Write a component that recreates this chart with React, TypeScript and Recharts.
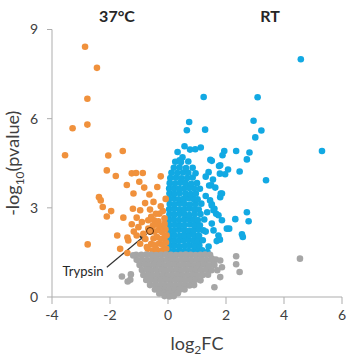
import { ScatterChart, Scatter, XAxis, YAxis, ReferenceDot, ReferenceLine, Label } from "recharts";

// log2FC, -log10(pvalue)
const orangePoints: [number, number][] = [
  [-2.86, 8.42], [-2.45, 7.71], [-2.78, 6.67], [-2.78, 5.8], [-3.29, 5.68], [-3.55, 4.77],
  [-2.06, 4.76], [-1.56, 4.91], [-2.11, 4.26], [-1.8, 4.07], [-1.25, 4.16], [-1.1, 4.17],
  [-0.87, 4.17], [-0.25, 4.06], [-1.42, 3.77], [-0.99, 3.88], [-0.37, 3.7], [-0.82, 3.68],
  [-1.19, 3.48], [-0.64, 3.45], [-2.38, 3.36], [-2.32, 3.25], [-2.25, 3.03], [-1.96, 2.89],
  [-1.21, 2.97], [-0.96, 2.92], [-0.79, 3.16], [-0.62, 2.94], [-0.18, 2.89], [-0.3, 2.8],
  [-2.11, 2.71], [-1.54, 2.67], [-1.08, 2.67], [-0.9, 2.52], [-0.68, 2.58], [-0.48, 2.58],
  [-0.33, 2.55], [-2.77, 1.77], [-1.75, 2.07], [-1.4, 2.0], [-1.37, 1.9], [-1.65, 1.62],
  [-1.4, 1.48], [-1.08, 2.07],
  [-0.52, 1.56], [-0.4, 1.6], [-0.27, 1.55], [-0.15, 1.58], [-0.06, 1.62],
  [-0.58, 1.78], [-0.45, 1.74], [-0.31, 1.8], [-0.19, 1.76], [-0.07, 1.83],
  [-0.5, 1.97], [-0.38, 2.02], [-0.24, 1.95], [-0.12, 2.0], [-0.05, 2.08],
  [-0.47, 2.2], [-0.33, 2.25], [-0.2, 2.18], [-0.09, 2.28],
  [-0.52, 2.4], [-0.36, 2.44], [-0.22, 2.38], [-0.12, 2.46],
  [-0.7, 1.62], [-0.78, 1.95], [-0.68, 2.3], [-0.85, 2.13], [-0.96, 1.79], [-0.73, 1.68],
  [-1.02, 2.35], [-1.18, 2.2], [-1.25, 2.45], [-0.58, 2.7], [-0.42, 2.8], [-0.25, 3.05],
  [-0.12, 2.65], [-0.08, 3.3], [-0.5, 3.2],
];

const bluePoints: [number, number][] = [
  // dense column
  [0.04, 1.55], [0.2, 1.55], [0.38, 1.56], [0.55, 1.54], [0.72, 1.55], [0.9, 1.56], [1.05, 1.55], [1.18, 1.57],
  [0.06, 1.72], [0.22, 1.73], [0.4, 1.71], [0.58, 1.72], [0.75, 1.74], [0.92, 1.72], [1.08, 1.73],
  [0.03, 1.9], [0.19, 1.91], [0.36, 1.89], [0.53, 1.9], [0.7, 1.92], [0.88, 1.9], [1.04, 1.89], [1.2, 1.91],
  [0.05, 2.07], [0.23, 2.08], [0.41, 2.06], [0.57, 2.07], [0.74, 2.09], [0.91, 2.07], [1.07, 2.06],
  [0.04, 2.25], [0.2, 2.24], [0.37, 2.26], [0.55, 2.25], [0.72, 2.23], [0.89, 2.25], [1.05, 2.26], [1.22, 2.24],
  [0.06, 2.42], [0.23, 2.43], [0.4, 2.41], [0.58, 2.42], [0.76, 2.44], [0.93, 2.42], [1.1, 2.41],
  [0.03, 2.6], [0.2, 2.61], [0.38, 2.59], [0.55, 2.6], [0.71, 2.62], [0.88, 2.6], [1.03, 2.59], [1.25, 2.61],
  [0.05, 2.78], [0.22, 2.77], [0.4, 2.79], [0.57, 2.78], [0.74, 2.76], [0.92, 2.78], [1.12, 2.79],
  [0.04, 2.95], [0.21, 2.96], [0.39, 2.94], [0.56, 2.95], [0.73, 2.97], [0.9, 2.95], [1.06, 2.94],
  [0.06, 3.13], [0.23, 3.12], [0.41, 3.14], [0.58, 3.13], [0.76, 3.11], [0.95, 3.13], [1.15, 3.14],
  [0.03, 3.3], [0.2, 3.31], [0.37, 3.29], [0.54, 3.3], [0.71, 3.32], [0.88, 3.3], [1.02, 3.29],
  [0.05, 3.48], [0.22, 3.47], [0.4, 3.49], [0.6, 3.48], [0.78, 3.46], [0.96, 3.48],
  [0.04, 3.65], [0.21, 3.66], [0.38, 3.64], [0.55, 3.65], [0.73, 3.67], [0.9, 3.65], [1.1, 3.64],
  [0.06, 3.83], [0.24, 3.82], [0.42, 3.84], [0.6, 3.83], [0.8, 3.81], [1.0, 3.83],
  [0.08, 4.0], [0.27, 4.01], [0.46, 3.99], [0.66, 4.0], [0.85, 4.02],
  [0.12, 4.18], [0.32, 4.17], [0.52, 4.19], [0.7, 4.18], [0.95, 4.16],
  [0.2, 4.35], [0.4, 4.36], [0.62, 4.34], [0.85, 4.35],
  [0.25, 4.55], [0.45, 4.54], [0.7, 4.56],
  // scattered
  [1.23, 6.73], [3.09, 6.72], [4.58, 8.0], [5.31, 4.91], [0.73, 5.89], [0.65, 5.61], [1.28, 5.63],
  [2.95, 5.93], [3.22, 5.6], [3.01, 5.37], [2.35, 4.91], [2.81, 4.86], [2.72, 4.63], [2.47, 4.22],
  [3.38, 3.93], [1.94, 4.91], [1.88, 4.77], [1.46, 4.62], [1.13, 5.03], [1.76, 4.41], [2.07, 4.29],
  [1.79, 4.15], [1.97, 4.13], [0.57, 5.07], [0.33, 4.88], [0.76, 4.96], [0.94, 4.97], [0.5, 4.7],
  [0.4, 4.6], [1.4, 4.2], [1.3, 4.05], [1.55, 3.95], [1.42, 3.75], [1.51, 4.58], [1.8, 4.43],
  [1.49, 3.76], [1.63, 3.68], [1.82, 3.48], [1.8, 3.36], [1.51, 3.12], [1.6, 2.97], [1.66, 2.8],
  [1.86, 3.48], [1.51, 3.08], [1.57, 2.92], [1.74, 2.75], [1.86, 2.58], [1.51, 2.47], [1.57, 2.24],
  [1.74, 2.07], [2.03, 2.3], [1.79, 1.93], [1.68, 1.88], [1.4, 1.7], [1.36, 1.51], [1.3, 3.4],
  [1.45, 3.25], [1.35, 2.85], [1.3, 2.2],
  [2.72, 2.85], [2.32, 2.62], [2.78, 2.55], [2.55, 2.11], [2.58, 2.02], [2.11, 2.3],
];

const grayPoints: [number, number][] = [
  [-1.1, 1.42], [-0.92, 1.42], [-0.75, 1.43], [-0.58, 1.42], [-0.41, 1.41], [-0.24, 1.42], [-0.07, 1.43], [0.1, 1.42],
  [0.27, 1.41], [0.44, 1.42], [0.61, 1.43], [0.78, 1.42], [0.95, 1.41], [1.12, 1.42], [1.28, 1.43], [1.45, 1.42],
  [-1.08, 1.25], [-0.9, 1.26], [-0.72, 1.24], [-0.55, 1.25], [-0.38, 1.26], [-0.21, 1.24], [-0.04, 1.25], [0.13, 1.26],
  [0.3, 1.24], [0.47, 1.25], [0.64, 1.26], [0.81, 1.24], [0.98, 1.25], [1.15, 1.26], [1.32, 1.24], [1.5, 1.25], [1.65, 1.26],
  [-0.98, 1.08], [-0.8, 1.09], [-0.63, 1.07], [-0.46, 1.08], [-0.29, 1.09], [-0.12, 1.07], [0.05, 1.08], [0.22, 1.09],
  [0.39, 1.07], [0.56, 1.08], [0.73, 1.09], [0.9, 1.07], [1.07, 1.08], [1.24, 1.09], [1.42, 1.07], [1.6, 1.08],
  [-0.9, 0.91], [-0.73, 0.92], [-0.56, 0.9], [-0.39, 0.91], [-0.22, 0.92], [-0.05, 0.9], [0.12, 0.91], [0.29, 0.92],
  [0.46, 0.9], [0.63, 0.91], [0.8, 0.92], [0.97, 0.9], [1.14, 0.91], [1.32, 0.92], [1.5, 0.9],
  [-0.85, 0.74], [-0.68, 0.75], [-0.51, 0.73], [-0.34, 0.74], [-0.17, 0.75], [0.0, 0.73], [0.17, 0.74],
  [0.34, 0.75], [0.51, 0.73], [0.68, 0.74], [0.85, 0.75], [1.02, 0.73], [1.2, 0.74], [1.38, 0.75],
  [-0.75, 0.57], [-0.58, 0.58], [-0.41, 0.56], [-0.24, 0.57], [-0.07, 0.58], [0.1, 0.56], [0.27, 0.57],
  [0.44, 0.58], [0.61, 0.56], [0.78, 0.57], [0.95, 0.58], [1.12, 0.56],
  [-0.62, 0.4], [-0.45, 0.41], [-0.28, 0.39], [-0.11, 0.4], [0.06, 0.41], [0.23, 0.39], [0.4, 0.4], [0.57, 0.41], [0.74, 0.39], [0.9, 0.4],
  [-0.45, 0.25], [-0.28, 0.26], [-0.11, 0.24], [0.06, 0.25], [0.23, 0.26], [0.4, 0.24], [0.57, 0.25],
  [-0.3, 0.12], [-0.14, 0.13], [0.02, 0.11], [0.18, 0.12], [0.34, 0.13],
  [-0.12, 0.03], [0.05, 0.02], [0.2, 0.03],
  // scattered
  [-1.59, 0.69], [-1.39, 0.52], [-1.28, 0.76], [-1.2, 1.4], [-1.3, 0.58], [1.51, 1.29], [1.8, 1.23],
  [1.86, 1.0], [1.8, 0.67], [1.6, 0.33], [1.7, 0.9], [2.47, 0.84], [2.35, 1.37], [2.35, 1.1], [4.55, 1.29],
];

const trypsin = { x: -0.62, y: 2.22 };
const xTicks = [-4, -2, 0, 2, 4, 6];
const yTicks = [0, 3, 6, 9];

const ORANGE = "#F0913C";
const BLUE = "#12A9E3";
const GRAY = "#A6A6A6";
const AXIS = "#ADADAD";
const TEXT = "#404040";
const FONT = "Lato, 'Open Sans', sans-serif";

const toRows = (pts: [number, number][]) => pts.map(([x, y]) => ({ x, y }));

const dot = (color: string) => (p: any) => <circle cx={p.cx} cy={p.cy} r={3.3} fill={color} />;

const Arrow = (p: any) => {
  const { x1, y1, x2, y2 } = p;
  const a = Math.atan2(y2 - y1, x2 - x1);
  const len = 8;
  const w = 3.5;
  const bx = x2 - len * Math.cos(a);
  const by = y2 - len * Math.sin(a);
  const pts = `${x2},${y2} ${bx + w * Math.sin(a)},${by - w * Math.cos(a)} ${bx - w * Math.sin(a)},${by + w * Math.cos(a)}`;
  return (
    <g>
      <line x1={x1} y1={y1} x2={bx} y2={by} stroke="#333" strokeWidth={1.2} />
      <polygon points={pts} fill="#333" />
    </g>
  );
};

const XTitle = ({ viewBox }: any) => {
  const cx = viewBox.x + viewBox.width / 2;
  return (
    <text x={cx} y={viewBox.y + 53} textAnchor="middle" fill={TEXT} fontSize={18} fontFamily={FONT}>
      log<tspan fontSize={12} dy={4}>2</tspan><tspan dy={-4}>FC</tspan>
    </text>
  );
};

const YTitle = ({ viewBox }: any) => {
  const cx = 19;
  const cy = viewBox.y + viewBox.height / 2;
  return (
    <text x={cx} y={cy} transform={`rotate(-90 ${cx} ${cy})`} textAnchor="middle" fill={TEXT} fontSize={18} fontFamily={FONT}>
      -log<tspan fontSize={12} dy={5}>10</tspan><tspan dy={-5}>(pvalue)</tspan>
    </text>
  );
};

export default function App() {
  return (
    <div style={{ position: "absolute", left: 0, top: 0, width: 347, height: 359, background: "#fff", fontFamily: FONT }}>
      <div style={{ position: "absolute", left: 117, top: 15, transform: "translate(-50%, -50%)", fontWeight: 700, fontSize: 16, color: "#262626" }}>
        37°C
      </div>
      <div style={{ position: "absolute", left: 270, top: 15, transform: "translate(-50%, -50%)", fontWeight: 700, fontSize: 16, color: "#262626" }}>
        RT
      </div>
      <ScatterChart width={347} height={359} margin={{ top: 29.5, right: 5, bottom: 22, left: 12 }}>
        <XAxis
          type="number"
          dataKey="x"
          domain={[-4, 6]}
          ticks={xTicks}
          height={40}
          stroke={AXIS}
          tickSize={7}
          tickMargin={6}
          tick={{ fill: TEXT, fontSize: 14, fontFamily: FONT }}
        >
          <Label content={<XTitle />} />
        </XAxis>
        <YAxis
          type="number"
          dataKey="y"
          domain={[0, 9]}
          ticks={yTicks}
          width={40}
          stroke={AXIS}
          tickSize={5}
          tickMargin={9}
          tick={{ fill: TEXT, fontSize: 14, fontFamily: FONT }}
        >
          <Label content={<YTitle />} />
        </YAxis>
        <Scatter data={toRows(bluePoints)} shape={dot(BLUE)} isAnimationActive={false} />
        <Scatter data={toRows(orangePoints)} shape={dot(ORANGE)} isAnimationActive={false} />
        <Scatter data={toRows(grayPoints)} shape={dot(GRAY)} isAnimationActive={false} />
        <ReferenceLine segment={[{ x: -2.11, y: 1.0 }, { x: -0.72, y: 2.13 }]} shape={Arrow} />
        <ReferenceDot x={trypsin.x} y={trypsin.y} r={3.5} fill={ORANGE} stroke="#5A2E0A" strokeWidth={1} />
        <ReferenceDot
          x={-2.93}
          y={0.875}
          r={0}
          fill="none"
          stroke="none"
          label={{ value: "Trypsin", position: "center", fill: "#262626", fontSize: 13, fontFamily: FONT }}
        />
      </ScatterChart>
    </div>
  );
}
